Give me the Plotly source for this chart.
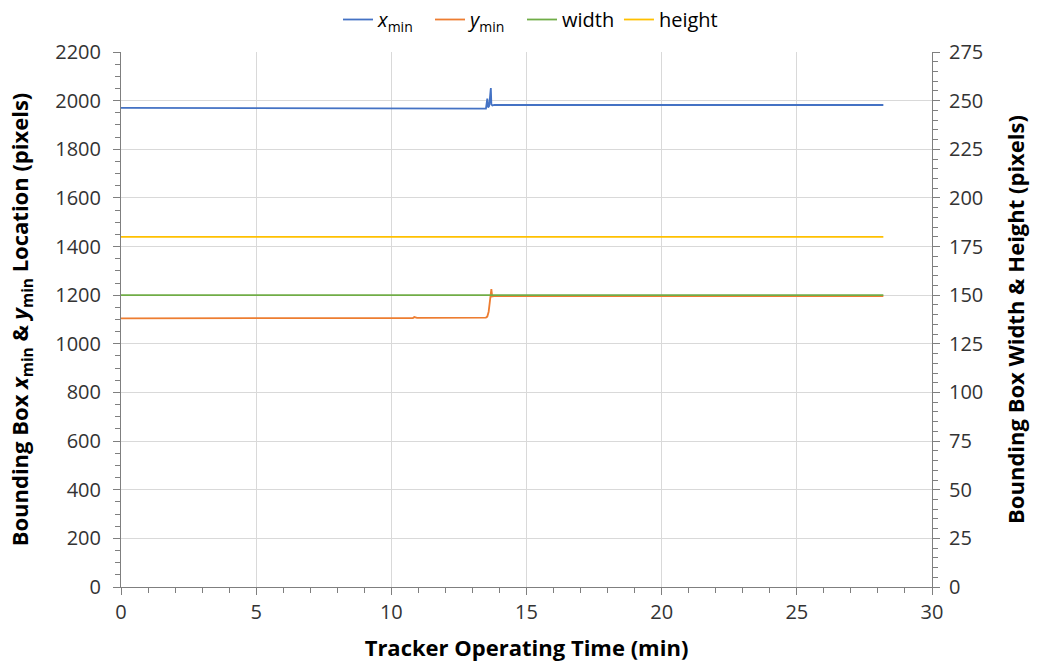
import plotly.graph_objects as go

# Tracker bounding box log (time in minutes)
t_xmin = [0, 1.8, 1.9, 10.8, 10.9, 13.5, 13.55, 13.58, 13.62, 13.68, 13.70, 13.74, 13.8, 28.2]
xmin = [1970, 1970, 1969, 1969, 1967, 1967, 2008, 1972, 1978, 2052, 1985, 1980, 1982, 1982]

t_ymin = [0, 1.8, 1.85, 1.9, 6.5, 6.55, 10.8, 10.85, 10.95, 13.5, 13.55, 13.6, 13.65, 13.70, 13.73, 13.8, 28.2]
ymin = [1105, 1105, 1108, 1105, 1106, 1108, 1106, 1110, 1107, 1108, 1112, 1132, 1180, 1225, 1195, 1196, 1196]

t_size = [0, 28.2]
width = [150, 150]
height = [180, 180]

BLUE, ORANGE, GREEN, YELLOW = "#4472C4", "#ED7D31", "#70AD47", "#FFC000"
FONT = "Open Sans"
AXIS = "#7f7f7f"
GRID = "#d9d9d9"
LW = 1.8

fig = go.Figure()
fig.add_trace(go.Scatter(x=t_xmin, y=xmin, mode="lines", name="<i>x</i><sub>min</sub>",
                         line=dict(color=BLUE, width=LW)))
fig.add_trace(go.Scatter(x=t_ymin, y=ymin, mode="lines", name="<i>y</i><sub>min</sub>",
                         line=dict(color=ORANGE, width=LW)))
fig.add_trace(go.Scatter(x=t_size, y=width, mode="lines", name="width", yaxis="y2",
                         line=dict(color=GREEN, width=LW)))
fig.add_trace(go.Scatter(x=t_size, y=height, mode="lines", name="height", yaxis="y2",
                         legend="legend2", line=dict(color=YELLOW, width=LW)))

tickfont = dict(family=FONT, size=20, color="#333333")
titlefont = dict(family=FONT, size=22, color="#000000", weight="bold")
legendfont = dict(family=FONT, size=20, color="#000000")

fig.update_layout(
    width=1037, height=662,
    margin=dict(l=121, r=105, t=52, b=75, autoexpand=False),
    paper_bgcolor="white", plot_bgcolor="white",
    showlegend=True,
    legend=dict(orientation="h", x=0.2676, xanchor="left", y=1.0, yanchor="top", yref="container",
                font=legendfont, itemwidth=30, entrywidth=47, tracegroupgap=0,
                bgcolor="rgba(0,0,0,0)"),
    legend2=dict(orientation="h", x=0.6140, xanchor="left", y=1.0, yanchor="top", yref="container",
                 font=legendfont, itemwidth=30, tracegroupgap=0, bgcolor="rgba(0,0,0,0)"),
    xaxis=dict(range=[0, 30], dtick=5, tick0=0, showgrid=True, gridcolor=GRID, gridwidth=1,
               showline=True, linecolor=AXIS, linewidth=1, zeroline=False,
               ticks="outside", ticklen=7, tickcolor=AXIS,
               minor=dict(dtick=1, ticks="outside", ticklen=5, tickcolor=AXIS, showgrid=False),
               tickfont=tickfont,
               title=dict(text="Tracker Operating Time (min)", font=titlefont, standoff=20)),
    yaxis=dict(range=[0, 2200], dtick=200, tick0=0, showgrid=True, gridcolor=GRID, gridwidth=1,
               showline=True, linecolor=AXIS, linewidth=1, zeroline=False,
               ticks="outside", ticklen=7, tickcolor=AXIS, ticklabelstandoff=8,
               minor=dict(dtick=50, ticks="outside", ticklen=5, tickcolor=AXIS, showgrid=False),
               tickfont=tickfont,
               title=dict(text="Bounding Box <i>x</i><sub>min</sub> & <i>y</i><sub>min</sub> Location (pixels)",
                          font=titlefont, standoff=20)),
    yaxis2=dict(range=[0, 275], dtick=25, tick0=0, overlaying="y", side="right",
                showgrid=False, showline=True, linecolor=AXIS, linewidth=1, zeroline=False,
                ticks="outside", ticklen=7, tickcolor=AXIS, ticklabelstandoff=5,
                minor=dict(dtick=5, ticks="outside", ticklen=5, tickcolor=AXIS, showgrid=False),
                tickfont=tickfont,
                title=dict(text="Bounding Box Width & Height (pixels)", font=titlefont, standoff=26)),
)

fig.write_html("out.html")
